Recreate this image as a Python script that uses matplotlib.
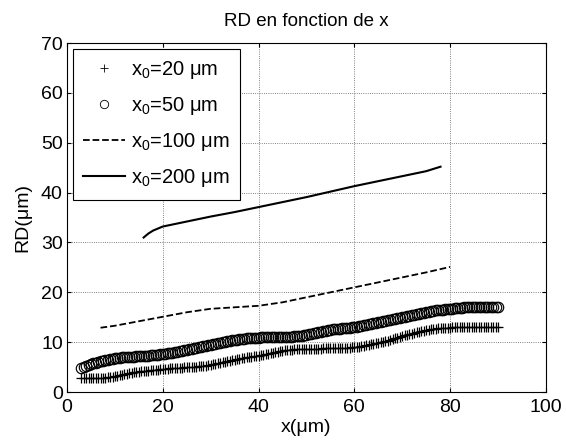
import matplotlib
matplotlib.use("Agg")
import matplotlib.pyplot as plt
import numpy as np

plt.rcParams['font.family'] = ['Liberation Sans', 'DejaVu Sans']
plt.rcParams['mathtext.default'] = 'regular'

# x0 = 20 um (plus markers), sampled every 0.5 um from x = 3 to 90
y20 = [2.8, 2.8, 2.8, 2.8, 2.8, 2.8, 2.8, 2.8, 2.8, 2.85,
       2.9, 2.95, 3.0, 3.1, 3.2, 3.3, 3.4, 3.5, 3.6, 3.7,
       3.8, 3.9, 4.0, 4.05, 4.1, 4.15, 4.2, 4.25, 4.3, 4.35,
       4.4, 4.45, 4.5, 4.55, 4.6, 4.65, 4.7, 4.75, 4.8, 4.85,
       4.9, 4.9, 4.9, 4.95, 5.0, 5.0, 5.0, 5.05, 5.1, 5.15,
       5.2, 5.25, 5.3, 5.4, 5.5, 5.6, 5.7, 5.8, 5.9, 6.0,
       6.1, 6.2, 6.3, 6.4, 6.5, 6.6, 6.7, 6.8, 6.9, 6.95,
       7.0, 7.1, 7.2, 7.25, 7.3, 7.4, 7.5, 7.6, 7.7, 7.8,
       7.9, 8.0, 8.1, 8.2, 8.3, 8.35, 8.4, 8.45, 8.5, 8.55,
       8.6, 8.6, 8.6, 8.65, 8.7, 8.7, 8.7, 8.7, 8.7, 8.7,
       8.7, 8.75, 8.8, 8.8, 8.8, 8.8, 8.8, 8.8, 8.8, 8.85,
       8.9, 8.9, 8.9, 8.95, 9.0, 9.05, 9.1, 9.2, 9.3, 9.4,
       9.5, 9.6, 9.7, 9.8, 9.9, 10.0, 10.1, 10.2, 10.3, 10.45,
       10.6, 10.75, 10.9, 11.05, 11.2, 11.35, 11.5, 11.6, 11.7, 11.85,
       12.0, 12.1, 12.2, 12.3, 12.4, 12.5, 12.6, 12.65, 12.7, 12.75,
       12.8, 12.85, 12.9, 12.9, 12.9, 12.95, 13.0, 13.0, 13.0, 13.0,
       13.0, 13.0, 13.0, 13.0, 13.0, 13.0, 13.0, 13.0, 13.0, 13.0,
       13.0, 13.0, 13.0, 13.0, 13.0]
x20 = 3 + 0.5 * np.arange(len(y20))

# x0 = 50 um (circles), sampled every 0.5 um from x = 3 to 90
y50 = [4.9, 5.05, 5.2, 5.4, 5.6, 5.75, 5.9, 6.05, 6.2, 6.3,
       6.4, 6.5, 6.6, 6.7, 6.8, 6.85, 6.9, 6.95, 7.0, 7.05,
       7.1, 7.1, 7.1, 7.15, 7.2, 7.2, 7.2, 7.25, 7.3, 7.35,
       7.4, 7.45, 7.5, 7.55, 7.6, 7.7, 7.8, 7.85, 7.9, 8.0,
       8.1, 8.2, 8.3, 8.4, 8.5, 8.6, 8.7, 8.8, 8.9, 9.0,
       9.1, 9.2, 9.3, 9.4, 9.5, 9.6, 9.7, 9.8, 9.9, 10.0,
       10.1, 10.2, 10.3, 10.35, 10.4, 10.5, 10.6, 10.65, 10.7, 10.75,
       10.8, 10.85, 10.9, 10.9, 10.9, 10.95, 11.0, 11.0, 11.0, 11.0,
       11.0, 11.0, 11.0, 11.0, 11.0, 11.05, 11.1, 11.1, 11.1, 11.15,
       11.2, 11.25, 11.3, 11.4, 11.5, 11.6, 11.7, 11.8, 11.9, 12.0,
       12.1, 12.2, 12.3, 12.4, 12.5, 12.55, 12.6, 12.65, 12.7, 12.75,
       12.8, 12.85, 12.9, 12.95, 13.0, 13.1, 13.2, 13.3, 13.4, 13.5,
       13.6, 13.7, 13.8, 13.9, 14.0, 14.1, 14.2, 14.3, 14.4, 14.5,
       14.6, 14.7, 14.8, 14.9, 15.0, 15.1, 15.2, 15.3, 15.4, 15.5,
       15.6, 15.7, 15.8, 15.9, 16.0, 16.1, 16.2, 16.3, 16.4, 16.45,
       16.5, 16.55, 16.6, 16.65, 16.7, 16.75, 16.8, 16.85, 16.9, 16.95,
       17.0, 17.0, 17.0, 17.0, 17.0, 17.0, 17.0, 17.0, 17.0, 17.0,
       17.0, 17.0, 17.0, 17.0, 17.0]
x50 = 3 + 0.5 * np.arange(len(y50))

# x0 = 100 um (dashed)
x100 = [7, 10, 15, 20, 25, 30, 35, 40, 45, 50, 55, 60, 65, 70, 75, 80]
y100 = [12.9, 13.3, 14.2, 15.1, 16.0, 16.7, 17.0, 17.3, 18.0, 19.0, 20.0, 21.0,
        22.0, 23.0, 24.0, 25.1]

# x0 = 200 um (solid)
x200 = [16, 17, 18, 19, 20, 25, 30, 35, 40, 45, 50, 55, 60, 65, 70, 75, 78]
y200 = [31.0, 31.8, 32.4, 32.8, 33.2, 34.2, 35.2, 36.1, 37.1, 38.1, 39.1, 40.2,
        41.3, 42.3, 43.3, 44.3, 45.2]

fig = plt.figure(figsize=(5.66, 4.44), dpi=100)
ax = fig.add_axes([0.1184, 0.117, 0.846, 0.786])

ax.plot(x20, y20, linestyle='none', marker='+', color='k', markersize=7,
        markeredgewidth=0.9, label=r'x$_0$=20 μm')
ax.plot(x50, y50, linestyle='none', marker='o', color='k', markersize=7.5,
        markerfacecolor='none', markeredgewidth=0.85, label=r'x$_0$=50 μm')
ax.plot(x100, y100, '--', color='k', lw=1.3, label=r'x$_0$=100 μm')
ax.plot(x200, y200, '-', color='k', lw=1.5, label=r'x$_0$=200 μm')

ax.set_xlim(0, 100)
ax.set_ylim(0, 70)
ax.set_xticks(range(0, 101, 20))
ax.set_yticks(range(0, 71, 10))
ax.grid(True, linestyle=':', color='0.35', lw=0.6)
ax.tick_params(direction='in', top=True, right=True, labelsize=14, length=3)
ax.tick_params(axis='x', pad=5)
ax.tick_params(axis='y', pad=3)

ax.set_title('RD en fonction de x', fontsize=13.5, pad=12)
ax.set_xlabel('x(μm)', fontsize=14, labelpad=2)
ax.set_ylabel('RD(μm)', fontsize=14, labelpad=7)

leg = ax.legend(loc='upper left', fontsize=14.5, fancybox=False, framealpha=1,
                edgecolor='k', handlelength=2.1, borderaxespad=0.3,
                labelspacing=0.7, handletextpad=0.3, borderpad=0.5)
leg.get_frame().set_linewidth(0.8)
leg.legend_handles[0].set_markersize(6)
leg.legend_handles[1].set_markersize(6)
leg.legend_handles[0].set_markeredgewidth(0.6)
leg.legend_handles[1].set_markeredgewidth(0.6)

fig.savefig('out.png', dpi=100)
